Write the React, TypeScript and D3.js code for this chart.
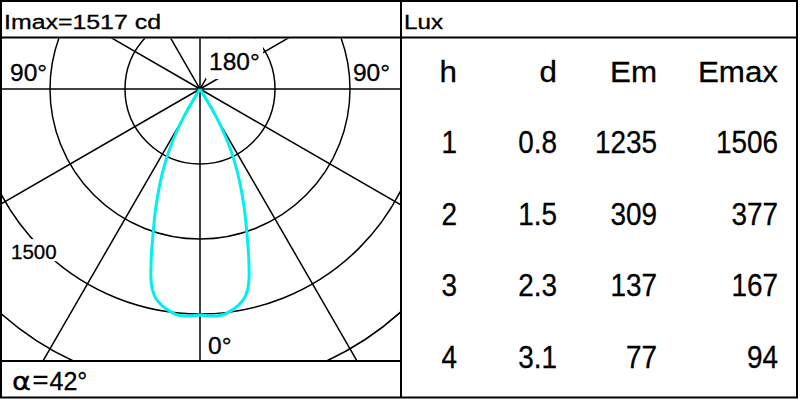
import React from 'react';
import * as d3 from 'd3';

// ---- data ----
const gammaDeg = [0, 2, 4, 6, 8, 10, 12, 14, 16, 18, 20, 22, 24, 26, 28, 30, 31, 32, 33];
const intensityCd = [1507, 1513, 1517, 1512, 1492, 1465, 1425, 1340, 1180, 1012, 872, 742, 620, 500, 372, 232, 150, 60, 0];
const ringValues = [500, 1000, 1500, 2000];
const ringLabelValue = 1500;
const spokeAngles = [0, 30, 60, 90, 120, 150, 180];
const tableHeaders = ['h', 'd', 'Em', 'Emax'];
const hValues = ['1', '2', '3', '4'];
const dValues = ['0.8', '1.5', '2.3', '3.1'];
const emValues = ['1235', '309', '137', '77'];
const emaxValues = ['1506', '377', '167', '94'];
const imaxCd = 1517;
const beamAngle = 42;

const FONT = '"Liberation Sans", Arial, sans-serif';
const TXT = { stroke: '#000', strokeWidth: 0.3 };

export default function App() {
  const cx = 200;
  const cy = 89;
  const r = d3.scaleLinear().domain([0, 2000]).range([0, 300]);
  const toRad = (g: number) => (g * Math.PI) / 180;

  type P = { g: number; v: number };
  const left: P[] = gammaDeg.map((g, i) => ({ g: -g, v: intensityCd[i] })).reverse();
  const right: P[] = gammaDeg.map((g, i) => ({ g, v: intensityCd[i] })).slice(1);
  const pts = [...left, ...right];
  const radial = d3
    .lineRadial<P>()
    .angle((d) => Math.PI - toRad(d.g))
    .radius((d) => r(d.v))
    .curve(d3.curveCatmullRom.alpha(0.5));
  const curvePath = radial(pts) || '';

  const spokes: number[] = [];
  spokeAngles.forEach((a) => {
    spokes.push(a);
    if (a !== 0 && a !== 180) spokes.push(-a);
  });

  const colRight = [457, 557, 657, 778];
  const rowY = d3.scaleLinear().domain([0, 4]).range([81.7, 368]);
  const columns = [hValues, dValues, emValues, emaxValues];

  // label for ring 1500 at 45 deg lower-left
  const lblAng = toRad(45);
  const lblR = r(ringLabelValue) + 10;
  const lblX = cx - lblR * Math.sin(lblAng);
  const lblY = cy + lblR * Math.cos(lblAng);

  return (
    <svg
      width={800}
      height={400}
      style={{ position: 'absolute', left: 0, top: 0, background: '#fff' }}
      fontFamily={FONT}
    >
      <defs>
        <clipPath id="polarClip">
          <rect x={2} y={38.5} width={398} height={322} />
        </clipPath>
      </defs>
      <rect x={0} y={0} width={800} height={400} fill="#fff" />
      <g clipPath="url(#polarClip)">
        {ringValues.map((v) => (
          <circle key={v} cx={cx} cy={cy} r={r(v)} fill="none" stroke="#000" strokeWidth={1.5} />
        ))}
        {spokes.map((a) => (
          <line
            key={a}
            x1={cx}
            y1={cy}
            x2={cx + 500 * Math.sin(toRad(a))}
            y2={cy + 500 * Math.cos(toRad(a))}
            stroke="#000"
            strokeWidth={1.5}
          />
        ))}
        {/* label backgrounds */}
        <rect x={206} y={38} width={57} height={41} fill="#fff" />
        <rect x={lblX - 25} y={lblY - 16} width={50} height={22} fill="#fff" />
        <text x={209} y={69.5} fontSize={24.5} {...TXT}>180°</text>
        <text x={10} y={81} fontSize={24.5} {...TXT}>90°</text>
        <text x={390} y={81} fontSize={24.5} textAnchor="end" {...TXT}>90°</text>
        <text x={208} y={354} fontSize={24.5} {...TXT}>0°</text>
        <text x={lblX} y={lblY + 4} fontSize={20.5} textAnchor="middle" {...TXT}>{String(ringLabelValue)}</text>
        <path d={curvePath} transform={`translate(${cx},${cy})`} fill="none" stroke="#00f0f0" strokeWidth={3} />
      </g>

      {/* frame */}
      <rect x={1} y={1} width={796} height={396.5} fill="none" stroke="#000" strokeWidth={2} />
      <line x1={401} y1={0} x2={401} y2={398} stroke="#000" strokeWidth={2} />
      <line x1={0} y1={37.5} x2={798} y2={37.5} stroke="#000" strokeWidth={2} />
      <line x1={0} y1={361} x2={401} y2={361} stroke="#000" strokeWidth={2} />

      <text x={4} y={28.5} fontSize={20} textLength={157} lengthAdjust="spacingAndGlyphs" {...TXT}>{`Imax=${imaxCd} cd`}</text>
      <text x={404} y={29} fontSize={20} textLength={39} lengthAdjust="spacingAndGlyphs" {...TXT}>Lux</text>
      <text x={12} y={390} fontSize={25} fontFamily='"DejaVu Sans", sans-serif' textLength={19} lengthAdjust="spacingAndGlyphs" {...TXT}>α</text>
      <text x={32.5} y={388} fontSize={25} textLength={16} lengthAdjust="spacingAndGlyphs" {...TXT}>=</text>
      <text x={49.5} y={390} fontSize={25} {...TXT}>{`${beamAngle}°`}</text>

      {tableHeaders.map((h, i) => (
        <text
          key={h}
          transform={`translate(${colRight[i]},${rowY(0)}) scale(1.08,1)`}
          fontSize={29}
          textAnchor="end"
          {...TXT}
        >
          {h}
        </text>
      ))}
      {columns.map((col, ci) =>
        col.map((v, ri) => (
          <text
            key={`${ci}-${ri}`}
            transform={`translate(${colRight[ci]},${rowY(ri + 1)}) scale(0.9,1)`}
            fontSize={31}
            textAnchor="end"
            {...TXT}
          >
            {v}
          </text>
        ))
      )}
    </svg>
  );
}
